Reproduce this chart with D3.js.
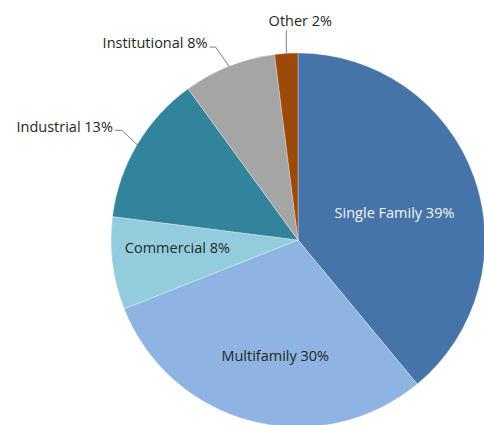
<!DOCTYPE html>
<html>
<head>
<meta charset="utf-8">
<script src="https://cdn.jsdelivr.net/npm/d3@7"></script>
<style>
  body { margin: 0; background: #fff; }
  text { font-family: "Open Sans", "Lato", sans-serif; font-size: 14.5px; }
</style>
</head>
<body>
<svg width="484" height="425"></svg>
<script>
// data
var categories = ["Single Family", "Multifamily", "Commercial", "Industrial", "Institutional", "Other"];
var shares = [39, 30, 8, 13, 8, 2];
var colors = ["#4674a9", "#8eb4e3", "#93cddd", "#31849b", "#a5a5a5", "#9b4a0a"];

var svg = d3.select("svg"),
    cx = 298, cy = 240,
    radius = 187,
    g = svg.append("g").attr("transform", "translate(" + cx + "," + cy + ")");

var slices = categories.map(function(c, i) { return {name: c, value: shares[i], color: colors[i]}; });

var pie = d3.pie()
    .sort(null)
    .value(function(d) { return d.value; });

var arc = d3.arc().innerRadius(0).outerRadius(radius);

var arcs = pie(slices);

g.selectAll(".slice")
    .data(arcs)
    .enter()
    .append("path")
    .attr("class", "slice")
    .attr("d", arc)
    .attr("fill", function(d) { return d.data.color; })
    .attr("stroke", "#ffffff")
    .attr("stroke-opacity", 0.5)
    .attr("stroke-width", 0.6);

// label placement: inside labels use a radius (fraction) + nudge,
// outside labels get a leader line from the arc edge
var labelStyle = {
  "Single Family": {inside: true, r: 0.56, dx: -2, dy: 8, fill: "#f2f5fa"},
  "Multifamily":   {inside: true, r: 0.64, dx: 7, dy: 0, fill: "#262626"},
  "Commercial":    {inside: true, r: 0.65, dx: 0, dy: -7, fill: "#262626"},
  "Industrial":    {inside: false, elbow: [-16, -15], tail: -7, anchor: "end", dy: 2},
  "Institutional": {inside: false, elbow: [-14, -20], tail: -6, anchor: "end", dy: 1},
  "Other":         {inside: false, elbow: [0, -24], tail: 0, anchor: "middle", dy: -4, dx: 14}
};

function pointAt(angle, r) {
  return [Math.sin(angle) * r, -Math.cos(angle) * r];
}

arcs.forEach(function(d) {
  var s = labelStyle[d.data.name];
  var mid = (d.startAngle + d.endAngle) / 2;
  var txt = d.data.name + " " + d.data.value + "%";
  if (s.inside) {
    var p = pointAt(mid, radius * s.r);
    g.append("text")
      .attr("x", p[0] + s.dx)
      .attr("y", p[1] + s.dy)
      .attr("dy", "0.35em")
      .attr("text-anchor", "middle")
      .attr("fill", s.fill)
      .text(txt);
  } else {
    var p0 = pointAt(mid, radius - 1);
    var p1 = [p0[0] + s.elbow[0], p0[1] + s.elbow[1]];
    var p2 = [p1[0] + s.tail, p1[1]];
    g.append("polyline")
      .attr("points", [p0, p1, p2].map(function(p) { return p.join(","); }).join(" "))
      .attr("fill", "none")
      .attr("stroke", "#7f7f7f")
      .attr("stroke-width", 1);
    g.append("text")
      .attr("x", p2[0] + (s.anchor === "end" ? -2 : (s.dx || 0)))
      .attr("y", p2[1] + s.dy)
      .attr("text-anchor", s.anchor)
      .attr("fill", "#262626")
      .text(txt);
  }
});
</script>
</body>
</html>
